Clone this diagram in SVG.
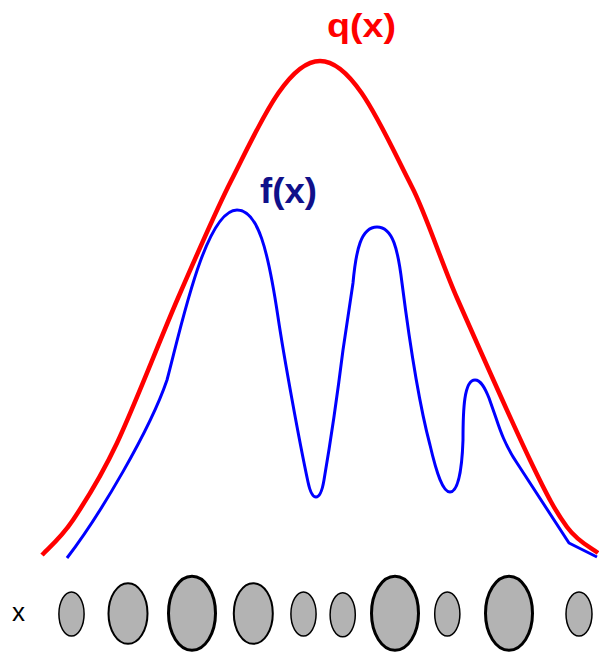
<svg xmlns="http://www.w3.org/2000/svg" width="599" height="653" viewBox="0 0 599 653">
<style>
.q{fill:none;stroke:#ff0000;stroke-width:4.5;stroke-linejoin:round}
.f{fill:none;stroke:#0000ff;stroke-width:3;stroke-linejoin:round}
.s{fill:#b3b3b3;stroke:#000;stroke-width:1.5}
.m{fill:#b3b3b3;stroke:#000;stroke-width:2}
.l{fill:#b3b3b3;stroke:#000;stroke-width:3}
text{font-family:"Liberation Sans",Arial,sans-serif}
</style>
<rect width="599" height="653" fill="#fff"/>
<g id="curves">
<path id="q-curve" class="q" d="M42,555 C47.2,549.2 60.5,538.7 73,520 C85.5,501.3 99.5,480 117,443 C134.5,406 159.5,340.7 178,298 C196.5,255.3 213.2,217.2 228,187 C255,135 285,61 320,61 C355,61 385,135 412,187 C425.5,213 442,264 457,298 C476.5,342.2 511.7,421.8 530,460 C548.3,498.2 555.7,511.5 567,527 C578.3,542.5 592.8,548.7 598,553"/>
<path id="f-curve" class="f" d="M67,558 C100,515 150,430 167,380 C180,332 205,210 237,210 C258,210 268,250 278,317 C284,357 299,440 308,482 C310.5,494 313,497 316,497 C319,497 322,492 324,480 C330,445 338,390 343,350 L353,283 C356,250 361,227 377,227 C393,227 398,250 402,283 C408,330 418,400 430,445 C437,475 443,492 450,492 C458,492 462,470 463,440 C463,410 464,380 475,380 C481,380 485,388 489,398 L496,418 C500,430 505,445 517,463 L569,543 L597,557"/>
</g>
<g id="label-q"><text x="327" y="37" font-size="33" font-weight="bold" fill="#ff0000" textLength="69" lengthAdjust="spacingAndGlyphs">q(x)</text></g>
<g id="label-f"><text x="260" y="203" font-size="35" font-weight="bold" fill="#10108a" textLength="57" lengthAdjust="spacingAndGlyphs">f(x)</text></g>
<g id="label-x"><text x="12" y="621" font-size="26" fill="#000">x</text></g>
<g id="samples">
<g id="s1"><ellipse class="s" cx="71.5" cy="614" rx="12.6" ry="22"/></g>
<g id="s2"><ellipse class="m" cx="128" cy="613.5" rx="19.5" ry="30.3"/></g>
<g id="s3"><ellipse class="l" cx="192" cy="613.3" rx="23.5" ry="37"/></g>
<g id="s4"><ellipse class="m" cx="253.3" cy="613.5" rx="19.5" ry="30.3"/></g>
<g id="s5"><ellipse class="s" cx="303.5" cy="614" rx="12.6" ry="22"/></g>
<g id="s6"><ellipse class="s" cx="342.7" cy="614.7" rx="12.6" ry="22"/></g>
<g id="s7"><ellipse class="l" cx="395" cy="613.3" rx="23.5" ry="37"/></g>
<g id="s8"><ellipse class="s" cx="447.3" cy="614" rx="12.6" ry="22"/></g>
<g id="s9"><ellipse class="l" cx="509" cy="613.3" rx="23.5" ry="37"/></g>
<g id="s10"><ellipse class="s" cx="579" cy="614" rx="13" ry="22"/></g>
</g>
</svg>
